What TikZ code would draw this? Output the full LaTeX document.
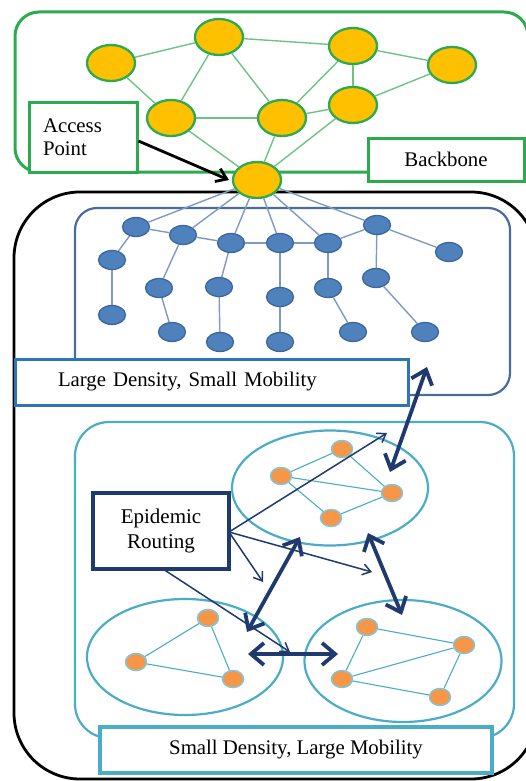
\documentclass[tikz,border=0pt]{standalone}
\usepackage{fontspec}
\setmainfont{Liberation Serif}
\usetikzlibrary{shapes.geometric,arrows.meta}
\definecolor{grn}{RGB}{44,170,80}
\definecolor{grnl}{RGB}{110,195,130}
\definecolor{gold}{HTML}{FFC000}
\definecolor{bnode}{HTML}{4F81BD}
\definecolor{bnodeo}{HTML}{3B679C}
\definecolor{bedge}{HTML}{7E9AC4}
\definecolor{dbox}{HTML}{4A6C98}
\definecolor{lbox}{HTML}{2E75B6}
\definecolor{tealc}{HTML}{4BACC6}
\definecolor{orng}{HTML}{F79646}
\definecolor{navy}{HTML}{1F3A6E}
\begin{document}
\begin{tikzpicture}[x=1pt,y=-1pt,
  bbnode/.style={ellipse, draw=grn, line width=2.3pt, fill=gold, minimum width=48pt, minimum height=36pt, inner sep=0pt},
  bbedge/.style={grnl, line width=1.4pt},
  blnode/.style={ellipse, draw=bnodeo, line width=1.3pt, fill=bnode, minimum width=27pt, minimum height=19pt, inner sep=0pt},
  bledge/.style={bedge, line width=1.4pt},
  ornode/.style={ellipse, draw=tealc!70, line width=1.5pt, fill=orng, minimum width=21pt, minimum height=17pt, inner sep=0pt},
  oredge/.style={tealc, line width=1.1pt},
  cluster/.style={ellipse, draw=tealc, line width=2.2pt, inner sep=0pt},
  txt/.style={font=\fontsize{20.8}{23}\selectfont, fill=white, inner sep=0pt},
  thickarr/.style={navy, line width=3.8pt, {Straight Barb[length=13pt,width=22pt]}-{Straight Barb[length=13pt,width=22pt]}},
  thinarr/.style={navy, line width=1.5pt, -{Straight Barb[length=8pt,width=11pt]}}
]
\useasboundingbox (0,0) rectangle (526,781);
\clip (0,0) rectangle (526,781);

% outer boxes
\draw[black, line width=2.8pt, rounded corners=66pt] (14,192) rectangle (537,779);
\draw[grn, line width=3pt, rounded corners=24pt] (15,12) rectangle (528,172);
\draw[dbox, line width=2.2pt, rounded corners=22pt] (75,208) rectangle (510,395);
\draw[tealc, line width=2.2pt, rounded corners=34pt] (75,422) rectangle (514,738);

% backbone nodes
\node[bbnode] (n1) at (111,63) {};
\node[bbnode] (n2) at (219,37) {};
\node[bbnode] (n3) at (353,46) {};
\node[bbnode] (n4) at (452,65) {};
\node[bbnode] (n5) at (171,118) {};
\node[bbnode] (n6) at (282,118) {};
\node[bbnode] (n7) at (353,105) {};
\node[bbnode] (ap) at (257,180) {};

% blue nodes
\node[blnode] (b1) at (136,227) {};
\node[blnode] (b2) at (183,235) {};
\node[blnode] (b3) at (231,243) {};
\node[blnode] (b4) at (280,243) {};
\node[blnode] (b5) at (328,243) {};
\node[blnode] (b6) at (377,225) {};
\node[blnode] (b7) at (449,252) {};
\node[blnode] (b8) at (112,260) {};
\node[blnode] (b9) at (159,288) {};
\node[blnode] (b10) at (219,287) {};
\node[blnode] (b11) at (280,297) {};
\node[blnode] (b12) at (328,288) {};
\node[blnode] (b13) at (376,278) {};
\node[blnode] (b14) at (112,315) {};
\node[blnode] (b15) at (172,332) {};
\node[blnode] (b16) at (220,342) {};
\node[blnode] (b17) at (280,342) {};
\node[blnode] (b18) at (353,332) {};
\node[blnode] (b19) at (425,332) {};

% blue edges
\foreach \a/\b in {ap/b1,ap/b2,ap/b3,ap/b4,ap/b5,ap/b6,b1/b2,b2/b3,b3/b4,b4/b5,b5/b6,b6/b7,
  b1/b8,b8/b14,b2/b9,b9/b15,b3/b10,b10/b16,b4/b11,b11/b17,b5/b12,b12/b18,b6/b13,b13/b19}
  \draw[bledge] (\a) -- (\b);

% backbone edges
\foreach \a/\b in {n1/n2,n1/n5,n2/n5,n2/n6,n2/n3,n3/n7,n3/n6,n3/n4,n4/n7,n5/n6,n6/n7,n5/ap,n6/ap,n7/ap}
  \draw[bbedge] (\a) -- (\b);

% clusters
\node[cluster, minimum width=196pt, minimum height=115pt] (c1) at (330,488) {};
\node[cluster, minimum width=196pt, minimum height=116pt] (c2) at (185,657) {};
\node[cluster, minimum width=197pt, minimum height=122pt] (c3) at (403,661) {};

% orange nodes
\node[ornode] (o1) at (342,449) {};
\node[ornode] (o2) at (281,476) {};
\node[ornode] (o3) at (392,493) {};
\node[ornode] (o4) at (331,518) {};
\node[ornode] (o5) at (208,618) {};
\node[ornode] (o6) at (136,662) {};
\node[ornode] (o7) at (233,679) {};
\node[ornode] (o8) at (367,627) {};
\node[ornode] (o9) at (464,645) {};
\node[ornode] (o10) at (342,679) {};
\node[ornode] (o11) at (440,697) {};
\foreach \a/\b in {o1/o2,o2/o3,o1/o3,o2/o4,o4/o3,o5/o6,o5/o7,o6/o7,o8/o9,o8/o10,o10/o9,o10/o11,o11/o9}
  \draw[oredge] (\a) -- (\b);

% label boxes
\node[txt, draw=grn, line width=3pt, minimum width=108pt, minimum height=69pt, text width=80pt, inner xsep=14pt, align=left] (aplab) at (83,137.5) {Access\\Point};
\node[txt, draw=grn, line width=3pt, minimum width=156pt, minimum height=43pt] (bblab) at (446,159.5) {Backbone};
\node[txt, draw=lbox, line width=3pt, minimum width=393pt, minimum height=46pt, text width=307pt, inner xsep=43pt, align=left] (ldlab) at (211.5,382) {Large Density, Small Mobility};
\node[txt, draw=tealc, line width=3.2pt, minimum width=392pt, minimum height=46pt] (sdlab) at (296,750) {Small Density, Large Mobility};
\node[txt, draw=navy, line width=3.2pt, minimum width=136pt, minimum height=76pt, align=center, font=\fontsize{21}{25}\selectfont] (epi) at (161,531) {Epidemic\\Routing};

% access point arrow
\coordinate (apt) at (229,180);
\draw[black, line width=2.8pt, -{Straight Barb[length=10pt,width=14pt]}] (aplab.east |- 0,141) -- (apt);

% arrow coordinates
\coordinate (er) at (229,532);
\coordinate (eb) at (163,569);
\coordinate (t1) at (387,433);
\coordinate (t2) at (263,582);
\coordinate (t3) at (372,572);
\coordinate (t4) at (290,652);
\coordinate (a1s) at (427,367);
\coordinate (a1e) at (390,472);
\coordinate (a2s) at (300,537);
\coordinate (a2e) at (247,632);
\coordinate (a3s) at (368,533);
\coordinate (a3e) at (402,615);
\coordinate (a4s) at (248,654);
\coordinate (a4e) at (338,654);

\draw[thinarr] (er) -- (t1);
\draw[thinarr] (er) -- (t2);
\draw[thinarr] (er) -- (t3);
\draw[thinarr] (eb) -- (t4);

\draw[thickarr] (a1s) -- (a1e);
\draw[thickarr] (a2s) -- (a2e);
\draw[thickarr] (a3s) -- (a3e);
\draw[thickarr] (a4s) -- (a4e);
\end{tikzpicture}
\end{document}
